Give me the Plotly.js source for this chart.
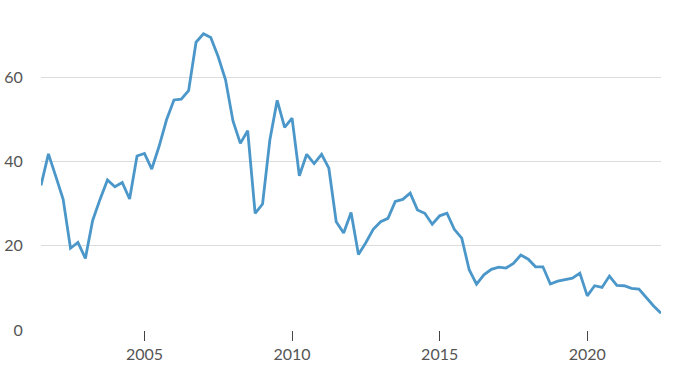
<!DOCTYPE html>
<html>
<head>
<meta charset="utf-8">
<script src="https://cdn.plot.ly/plotly-3.0.1.min.js"></script>
<style>html,body{margin:0;padding:0;background:#fff;}#chart{width:680px;height:375px;}</style>
</head>
<body>
<div id="chart"></div>
<script>
// Quarterly series, first quarter = 2001 Q3 (July 2001), last = 2022 Q3
var startYear = 2001;
var startMonth = 7;
var values = [
  34.3, 41.8, 36.4, 31.0, 19.4, 20.8, 17.0, 26.0, 31.0, 35.6,
  34.0, 35.0, 31.1, 41.3, 41.9, 38.2, 43.6, 49.9, 54.6, 54.8,
  56.8, 68.3, 70.3, 69.4, 64.9, 59.4, 49.6, 44.3, 47.3, 27.7,
  29.9, 45.1, 54.5, 48.1, 50.3, 36.6, 41.7, 39.5, 41.7, 38.4,
  25.7, 23.0, 27.9, 17.9, 20.7, 23.9, 25.7, 26.5, 30.5, 31.0,
  32.5, 28.5, 27.7, 25.1, 27.1, 27.7, 23.9, 21.8, 14.3, 10.9,
  13.1, 14.4, 14.9, 14.7, 15.8, 17.8, 16.8, 15.0, 15.0, 10.9,
  11.6, 12.0, 12.3, 13.5, 8.1, 10.5, 10.1, 12.8, 10.6, 10.5,
  9.9, 9.7, 7.7, 5.7, 4.0
];
var yTicks = [0, 20, 40, 60];
var yTickLabels = ['0', '20', '40', '60'];

var dates = [];
for (var i = 0; i < values.length; i++) {
  var m = startMonth - 1 + i * 3;
  var y = startYear + Math.floor(m / 12);
  var mm = (m % 12) + 1;
  dates.push(y + '-' + (mm < 10 ? '0' + mm : mm) + '-01');
}

var trace = {
  x: dates,
  y: values,
  type: 'scatter',
  mode: 'lines',
  line: {color: '#4b97c9', width: 2.8},
  hoverinfo: 'x+y'
};

var layout = {
  width: 680,
  height: 375,
  margin: {l: 41, r: 19, t: 14, b: 45},
  paper_bgcolor: '#ffffff',
  plot_bgcolor: '#ffffff',
  showlegend: false,
  font: {family: 'Lato, "Open Sans", sans-serif', size: 16, color: '#555555'},
  xaxis: {
    type: 'date',
    range: ['2001-07-01', '2022-07-01'],
    tick0: '2005-01-01',
    dtick: 'M60',
    tickformat: '%Y',
    ticks: 'outside',
    ticklen: 10,
    tickwidth: 1,
    tickcolor: '#444444',
    showgrid: false,
    zeroline: false,
    showline: false,
    tickfont: {size: 16, color: '#555555'}
  },
  yaxis: {
    range: [0, 75],
    tickvals: yTicks,
    ticktext: yTickLabels,
    showgrid: true,
    gridcolor: '#dcdcdc',
    gridwidth: 1,
    zeroline: false,
    showline: false,
    ticks: 'outside',
    ticklen: 14,
    tickcolor: 'rgba(0,0,0,0)',
    tickfont: {size: 16, color: '#555555'}
  }
};

Plotly.newPlot('chart', [trace], layout, {displayModeBar: false, staticPlot: true});
</script>
</body>
</html>
